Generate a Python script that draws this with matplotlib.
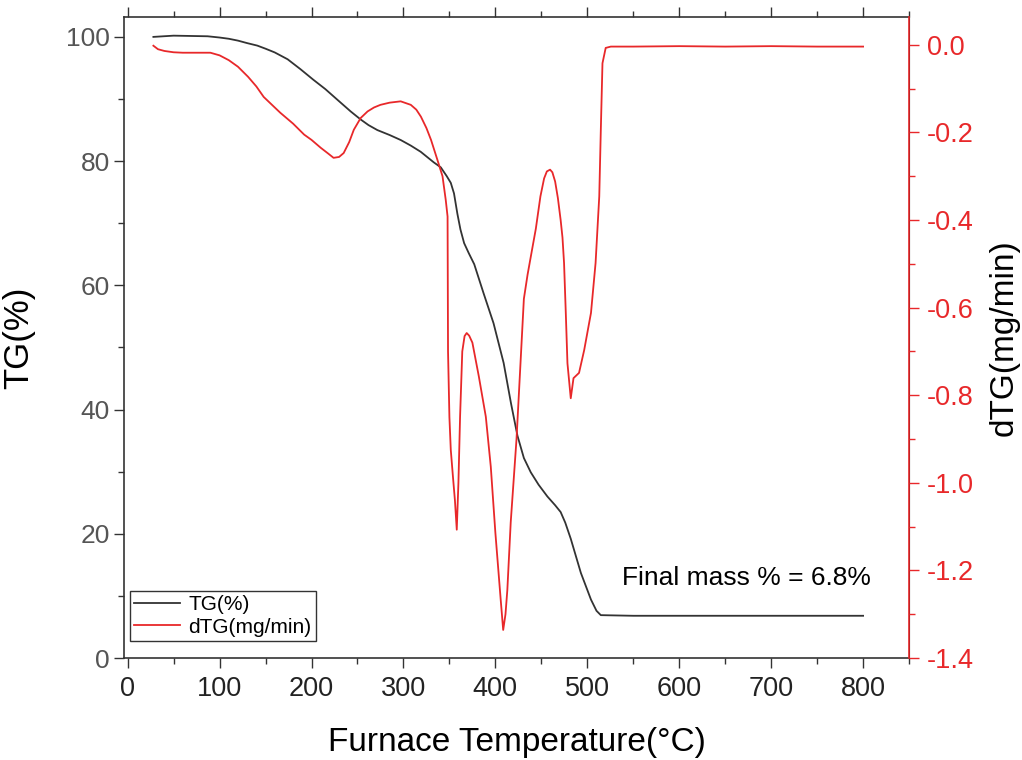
import matplotlib
matplotlib.use('Agg')
import matplotlib.pyplot as plt
from matplotlib.ticker import MultipleLocator

plt.rcParams['font.family'] = ['Liberation Sans', 'DejaVu Sans']

# TG curve (mass %)
temp_tg = [28, 50, 87, 100, 110, 120, 130, 141, 150, 160, 174, 188, 202, 215,
           228, 242.6, 253.5, 262, 271.6, 285, 297, 308, 318.8, 333, 340.6,
           347, 351.5, 355, 358.7, 362, 366, 371, 377, 387, 398, 409, 417,
           424, 431, 438.5, 447, 456.6, 465, 471, 476, 482, 493, 504, 510,
           514.7, 550, 600, 700, 800]
tg = [100, 100.2, 100.1, 99.9, 99.7, 99.4, 99.0, 98.6, 98.1, 97.5, 96.4, 94.8,
      93.1, 91.6, 89.9, 88.0, 86.7, 85.8, 85.0, 84.2, 83.4, 82.5, 81.5, 79.8,
      79.0, 77.6, 76.5, 74.8, 71.5, 69.0, 66.8, 65.2, 63.4, 58.8, 53.9, 47.5,
      41.0, 35.8, 32.2, 29.9, 27.9, 26.0, 24.6, 23.5, 21.8, 19.2, 13.7, 9.4,
      7.6, 6.9, 6.8, 6.8, 6.8, 6.8]

# dTG curve (mg/min)
temp_dtg = [28, 33, 40, 50, 60, 75, 90, 100, 110, 120, 131, 140, 148, 157,
            166, 180, 192, 200, 210, 218, 224, 230, 235, 241, 246, 253.5, 261,
            268, 275, 285, 297, 308, 314, 319, 325, 330, 337, 342.5, 346, 348,
            348.5, 350, 351.5, 354, 356, 358, 359.8, 361.6, 364, 366.5, 368.8,
            371.5, 375, 382, 389.6, 395, 400, 405.8, 408.5, 411, 413, 416.7,
            423, 431, 435, 438.5, 444, 449, 453, 456, 459.5, 462, 465, 468,
            471, 473, 474.7, 476.6, 478.4, 482, 485, 491, 496.6, 504, 509, 513,
            514.7, 516.5, 520, 525.6, 550, 600, 650, 700, 750, 800]
dtg = [-0.002, -0.010, -0.014, -0.017, -0.018, -0.018, -0.018, -0.024, -0.035,
       -0.050, -0.073, -0.095, -0.119, -0.137, -0.155, -0.180, -0.205, -0.217,
       -0.235, -0.248, -0.258, -0.256, -0.247, -0.222, -0.194, -0.167, -0.152,
       -0.143, -0.137, -0.132, -0.129, -0.137, -0.148, -0.164, -0.190, -0.217,
       -0.263, -0.300, -0.354, -0.392, -0.70, -0.85, -0.925, -0.99, -1.04,
       -1.107, -1.0, -0.849, -0.70, -0.665, -0.658, -0.664, -0.68, -0.757,
       -0.849, -0.963, -1.114, -1.267, -1.336, -1.30, -1.245, -1.09, -0.90,
       -0.58, -0.525, -0.484, -0.42, -0.346, -0.305, -0.289, -0.285, -0.291,
       -0.312, -0.350, -0.400, -0.440, -0.498, -0.612, -0.727, -0.807, -0.761,
       -0.749, -0.697, -0.612, -0.498, -0.346, -0.194, -0.042, -0.007, -0.004,
       -0.004, -0.003, -0.004, -0.003, -0.004, -0.004]

red = '#e8282a'
dark = '#333333'

fig = plt.figure(figsize=(10.22, 7.6), dpi=100)
ax = fig.add_axes([0.1213, 0.1342, 0.7682, 0.8434])
ax2 = ax.twinx()

l1, = ax.plot(temp_tg, tg, color=dark, lw=1.3, label='TG(%)')
l2, = ax2.plot(temp_dtg, dtg, color=red, lw=1.3, label='dTG(mg/min)')

ax.set_xlim(-4, 850)
ax.set_ylim(0, 103.2)

ax.xaxis.set_major_locator(MultipleLocator(100))
ax.xaxis.set_minor_locator(MultipleLocator(50))
ax.yaxis.set_major_locator(MultipleLocator(20))
ax.yaxis.set_minor_locator(MultipleLocator(10))
ax2.yaxis.set_major_locator(MultipleLocator(0.2))
ax2.yaxis.set_minor_locator(MultipleLocator(0.1))
ax2.yaxis.set_major_formatter(lambda v, pos: f'{v:.1f}'.replace('-0.0', '0.0'))
ax2.set_ylim(-1.4, 0.0635)

ax.tick_params(which='both', direction='out', top=True, right=False,
               width=1, color=dark)
ax.tick_params(which='major', length=7)
ax.tick_params(which='minor', length=4)
ax.tick_params(axis='x', labelsize=19.5, labelcolor='#222222', pad=6)
ax.tick_params(axis='y', labelsize=19, labelcolor='#555555', pad=3)
ax2.tick_params(which='both', direction='out', color=red, width=1,
                labelsize=19.5, labelcolor=red, pad=6)
ax2.tick_params(which='major', length=7)
ax2.tick_params(which='minor', length=4)

for s in ['left', 'top', 'bottom']:
    ax.spines[s].set_color(dark)
    ax.spines[s].set_linewidth(1.2)
ax2.spines['right'].set_color(red)
ax2.spines['right'].set_linewidth(1.2)
for s in ['left', 'top', 'bottom']:
    ax2.spines[s].set_visible(False)

ax.set_xlabel('Furnace Temperature(°C)', fontsize=24, labelpad=18)
ax.set_ylabel('TG(%)', fontsize=25)
ax.yaxis.set_label_coords(-0.113, 0.5)
ax2.set_ylabel('dTG(mg/min)', fontsize=24, labelpad=10)

ax.text(538, 12.9, 'Final mass % = 6.8%', fontsize=19, va='center',
        ha='left')

leg = ax2.legend([l1, l2], ['TG(%)', 'dTG(mg/min)'], loc='lower left',
                 bbox_to_anchor=(0.008, 0.027), borderaxespad=0,
                 fontsize=15, fancybox=False, framealpha=1,
                 edgecolor=dark, handlelength=2.2, handletextpad=0.4,
                 borderpad=0.2, labelspacing=0.15)
leg.get_frame().set_linewidth(1)

fig.savefig('out.png', dpi=100)
